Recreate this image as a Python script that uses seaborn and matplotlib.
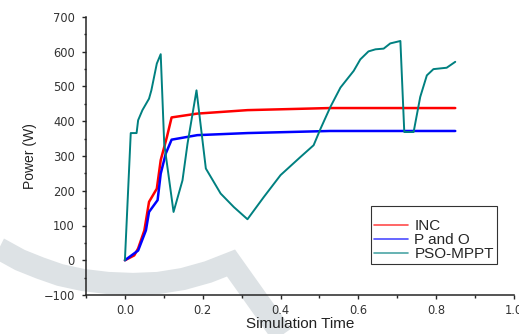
import numpy as np
import pandas as pd
import seaborn as sns
import matplotlib
matplotlib.use("Agg")
from matplotlib import pyplot as plt
from matplotlib.lines import Line2D
from matplotlib.ticker import MultipleLocator

# INC curve
inc_t = [0.0, 0.024, 0.034, 0.05, 0.062, 0.082, 0.092, 0.108, 0.12, 0.186, 0.315, 0.527, 0.849]
inc_p = [0, 14, 34, 86, 168, 206, 288, 355, 411, 422, 432, 438, 438]

# P and O curve
po_t = [0.0, 0.034, 0.054, 0.062, 0.084, 0.092, 0.105, 0.12, 0.186, 0.315, 0.527, 0.849]
po_p = [0, 28, 86, 139, 173, 249, 307, 347, 360, 366, 372, 372]

# PSO-MPPT curve
pso_t = [0.0, 0.015, 0.03, 0.034, 0.045, 0.062, 0.068, 0.082, 0.092, 0.101, 0.125, 0.148,
         0.161, 0.184, 0.208, 0.246, 0.28, 0.315, 0.357, 0.4, 0.451, 0.485, 0.503, 0.528,
         0.554, 0.588, 0.605, 0.626, 0.644, 0.665, 0.682, 0.708, 0.718, 0.742, 0.759,
         0.776, 0.793, 0.827, 0.849]
pso_p = [0, 366, 366, 403, 432, 465, 489, 566, 593, 336, 139, 230,
         336, 489, 264, 192, 153, 118, 182, 245, 297, 331, 379, 441,
         497, 545, 578, 601, 607, 609, 624, 631, 369, 369, 470,
         532, 550, 554, 571]

names = ["INC", "P and O", "PSO-MPPT"]
colors = ["#ff0000", "#0000ff", "#008080"]
widths = [1.8, 1.8, 1.4]

sns.set_style("ticks")
plt.rcParams["font.family"] = ["Liberation Sans", "DejaVu Sans"]

fig = plt.figure(figsize=(5.19, 3.34), dpi=100)

# faint watermark arc behind the plot (figure pixels)
wm_x = np.array([-10, 0, 20, 40, 60, 83, 108, 133, 158, 183, 208, 231, 290])
wm_y = np.array([244, 249, 260, 268, 275, 280, 283, 284, 283, 279, 272, 263, 346])
fig.add_artist(Line2D(wm_x / 519, 1 - wm_y / 334, color="#dde2e5", lw=16,
                      solid_joinstyle="miter", solid_capstyle="butt", zorder=0))

ax = fig.add_axes([86 / 519, 1 - 295 / 334, 428 / 519, 278 / 334])
ax.set_facecolor("none")
ax.set_zorder(1)

for name, t, p, c, w in zip(names, [inc_t, po_t, pso_t], [inc_p, po_p, pso_p], colors, widths):
    df = pd.DataFrame({"t": t, "p": p})
    sns.lineplot(data=df, x="t", y="p", ax=ax, color=c, lw=w, label=name,
                 sort=False, estimator=None)

ax.set_xlim(-0.1, 1.0)
ax.set_ylim(-100, 700)
ax.xaxis.set_major_locator(MultipleLocator(0.2))
ax.xaxis.set_minor_locator(MultipleLocator(0.1))
ax.yaxis.set_major_locator(MultipleLocator(100))
ax.yaxis.set_minor_locator(MultipleLocator(50))
ax.xaxis.set_major_formatter(plt.FormatStrFormatter("%.1f"))
ax.tick_params(which="major", length=3, width=1, labelsize=8.3, labelcolor="#333333")
ax.tick_params(which="minor", length=1.8, width=1)
ax.tick_params(axis="x", which="major", pad=3.5)
ax.tick_params(axis="y", which="major", pad=5)
for lab in ax.get_xticklabels() + ax.get_yticklabels():
    lab.set_family("DejaVu Sans")
sns.despine(ax=ax)
for s in ["left", "bottom"]:
    ax.spines[s].set_linewidth(1.1)

ax.set_xlabel("Simulation Time", fontsize=11, color="#222222", labelpad=0)
ax.set_ylabel("Power (W)", fontsize=10, color="#222222", labelpad=5)

leg = ax.legend(loc="lower right", bbox_to_anchor=(497 / 519, 1 - 264 / 334),
                bbox_transform=fig.transFigure, title=" ", fontsize=11,
                title_fontsize=8, frameon=True, fancybox=False, handlelength=2.2,
                handletextpad=0.45, labelspacing=0.0, borderpad=0.2, borderaxespad=0)
leg.get_frame().set_edgecolor("black")
leg.get_frame().set_linewidth(0.8)
for h in leg.get_lines():
    h.set_linewidth(1.2)
    h.set_alpha(0.7)

fig.savefig("out.png", dpi=100)
